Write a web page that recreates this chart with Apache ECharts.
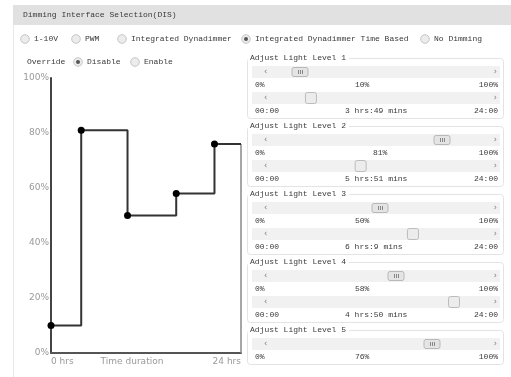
<!DOCTYPE html>
<html>
<head>
<meta charset="utf-8">
<script src="https://cdn.jsdelivr.net/npm/echarts@6/dist/echarts.min.js"></script>
<style>html,body{margin:0;padding:0;background:#fff}#c{width:511px;height:377px}</style>
</head>
<body>
<div id="c"></div>
<script>
// ---- data ----
var levelNames = ['Adjust Light Level 1','Adjust Light Level 2','Adjust Light Level 3','Adjust Light Level 4','Adjust Light Level 5'];
var levels = [10, 81, 50, 58, 76];            // % light level
var durationMins = [229, 351, 369, 290];      // 3h49, 5h51, 6h9, 4h50 (level 5 runs to 24h)
var dayHours = 24;
var yTicks = [0, 20, 40, 60, 80, 100];
var modeOptions = ['1-10V','PWM','Integrated Dynadimmer','Integrated Dynadimmer Time Based','No Dimming'];
var modeSelected = 3;
var overrideOptions = ['Disable','Enable'];
var overrideSelected = 0;

// ---- derived ----
var cumHours = [];
var acc = 0;
for (var i = 0; i < durationMins.length; i++) { acc += durationMins[i]; cumHours.push(acc / 60); }
var stepData = [];
var starts = [0].concat(cumHours);
for (var i = 0; i < levels.length; i++) stepData.push({value: [starts[i], levels[i]]});
stepData.push({value: [dayHours, levels[levels.length - 1]], symbol: 'none'});
function fmtDur(m) { return Math.floor(m / 60) + ' hrs:' + (m % 60) + ' mins'; }

// ---- UI graphics ----
var MONO = 'Liberation Mono';
var TXT = '#3a3a3a';
var g = [];
function text(x, y, s, opt) {
  opt = opt || {};
  g.push({type: 'text', x: x, y: y, z: 10, style: {text: s, fill: opt.fill || TXT, font: (opt.size || 8) + 'px "' + (opt.family || MONO) + '"', textAlign: opt.align || 'left', textVerticalAlign: 'middle', backgroundColor: opt.bg, padding: opt.pad}});
}
function radio(cx, cy, checked) {
  g.push({type: 'circle', z: 10, shape: {cx: cx, cy: cy, r: 4.3}, style: {fill: '#ececec', stroke: '#c6c6c6', lineWidth: 1}});
  if (checked) g.push({type: 'circle', z: 11, shape: {cx: cx, cy: cy, r: 2}, style: {fill: '#555'}});
}
// header
g.push({type: 'rect', z: 5, shape: {x: 13, y: 5, width: 498, height: 20}, style: {fill: '#e1e1e1'}});
text(23, 15, 'Dimming Interface Selection(DIS)');
g.push({type: 'line', z: 5, shape: {x1: 13.5, y1: 25, x2: 13.5, y2: 377}, style: {stroke: '#e8e8e8', lineWidth: 1}});
// mode radios
var modeRadioX = [25, 76, 122, 246, 425];
for (var i = 0; i < modeOptions.length; i++) {
  radio(modeRadioX[i], 39, i === modeSelected);
  text(modeRadioX[i] + 9, 39, modeOptions[i]);
}
// override
text(27, 62, 'Override');
var ovX = [78, 135];
for (var i = 0; i < overrideOptions.length; i++) {
  radio(ovX[i], 62, i === overrideSelected);
  text(ovX[i] + 9, 62, overrideOptions[i]);
}
text(132, 362, 'Time duration', {family: 'DejaVu Sans', size: 9, fill: '#999', align: 'center'});

// slider groups
var pctLabelX = [355, 373, 355, 355, 355];
function track(y) {
  g.push({type: 'rect', z: 5, shape: {x: 252, y: y - 6, width: 248, height: 12}, style: {fill: '#f1f1f1'}});
  text(264, y, '\u2039', {size: 8, fill: '#777', family: 'DejaVu Sans'});
  text(497, y, '\u203A', {size: 8, fill: '#777', family: 'DejaVu Sans', align: 'right'});
}
for (var i = 0; i < levels.length; i++) {
  var t = 58 + 68 * i;
  var hasTime = i < durationMins.length;
  var boxH = hasTime ? 60 : 34;
  g.push({type: 'rect', z: 4, shape: {x: 247.5, y: t + 0.5, width: 256, height: boxH, r: 3}, style: {fill: 'none', stroke: '#e3e3e3', lineWidth: 1}});
  text(248, t, levelNames[i], {bg: '#fff', pad: [0, 3, 0, 2]});
  // value slider
  track(t + 14);
  var vx = 280 + levels[i] * 2;
  g.push({type: 'rect', z: 12, shape: {x: vx - 8, y: t + 9.5, width: 16, height: 9, r: 2}, style: {fill: '#e4e4e4', stroke: '#b9b9b9', lineWidth: 1}});
  for (var k = -1; k <= 1; k++) g.push({type: 'line', z: 13, shape: {x1: vx + k * 2 + 0.5, y1: t + 12, x2: vx + k * 2 + 0.5, y2: t + 16}, style: {stroke: '#888', lineWidth: 1}});
  text(255, t + 27, '0%');
  text(pctLabelX[i], t + 27, levels[i] + '%');
  text(498, t + 27, '100%', {align: 'right'});
  if (hasTime) {
    track(t + 40);
    var tx = 278.5 + cumHours[i] * 8.5;
    g.push({type: 'rect', z: 12, shape: {x: tx - 5.5, y: t + 34.5, width: 11, height: 11, r: 2}, style: {fill: '#ececec', stroke: '#bcbcbc', lineWidth: 1}});
    text(255, t + 53, '00:00');
    text(345, t + 53, fmtDur(durationMins[i]));
    text(498, t + 53, '24:00', {align: 'right'});
  }
}

var chart = echarts.init(document.getElementById('c'));
chart.setOption({
  animation: false,
  backgroundColor: '#fff',
  grid: {left: 51, right: 270, top: 78, bottom: 24},
  xAxis: {
    type: 'value', min: 0, max: dayHours, interval: dayHours,
    axisLine: {lineStyle: {color: '#555', width: 2}},
    axisTick: {show: false}, splitLine: {show: false},
    axisLabel: {formatter: '{value} hrs', color: '#999', fontSize: 9, fontFamily: 'DejaVu Sans', margin: 4, alignMinLabel: 'left', alignMaxLabel: 'right'}
  },
  yAxis: {
    type: 'value', min: yTicks[0], max: yTicks[yTicks.length - 1], interval: yTicks[1] - yTicks[0],
    axisLine: {show: true, lineStyle: {color: '#444', width: 2}},
    axisTick: {show: false}, splitLine: {show: false},
    axisLabel: {formatter: '{value}%', color: '#999', fontSize: 9, fontFamily: 'DejaVu Sans', margin: 2}
  },
  series: [
    {type: 'line', step: 'end', data: stepData, symbol: 'circle', symbolSize: 7,
     lineStyle: {color: '#333', width: 2}, itemStyle: {color: '#000'}, z: 3},
    {type: 'line', data: [[dayHours, levels[levels.length - 1]], [dayHours, 0]], symbol: 'none',
     lineStyle: {color: '#888', width: 1.5}, z: 2}
  ],
  graphic: g
});
</script>
</body>
</html>
